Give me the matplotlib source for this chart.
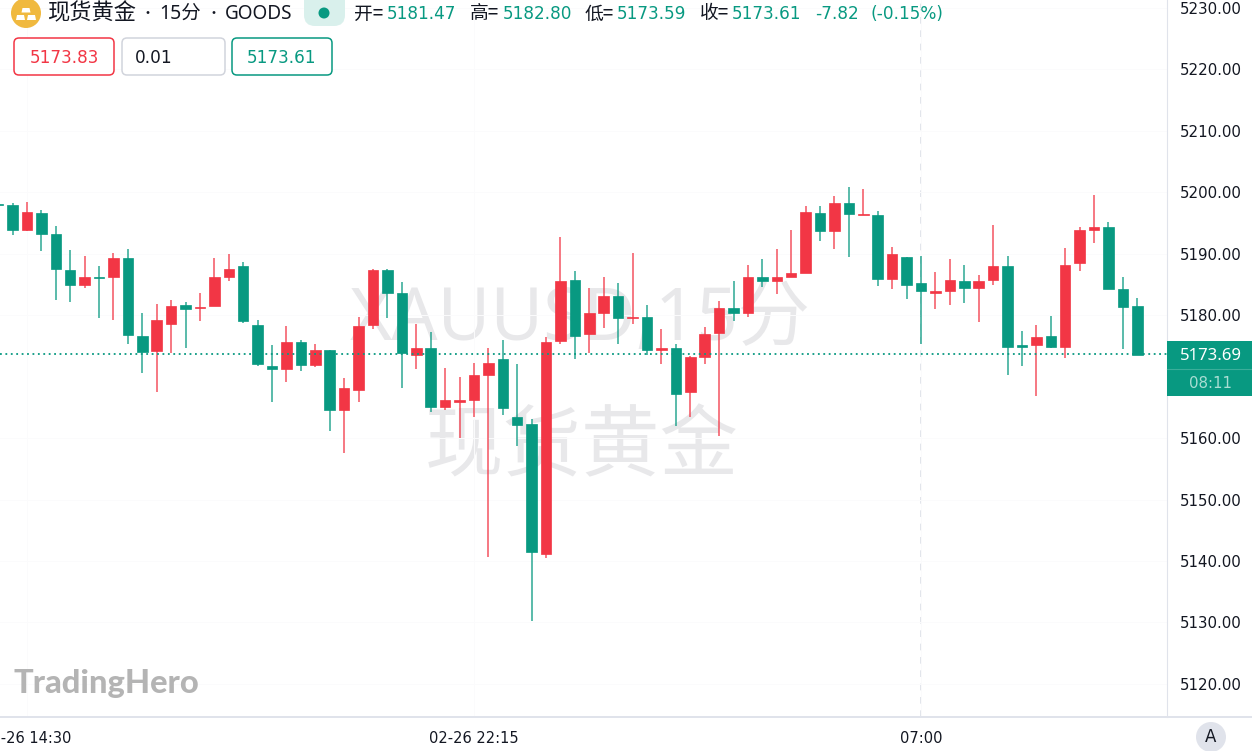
"""Spot gold 15 minute candlestick chart, saved as out.png."""

import numpy as np
import matplotlib
matplotlib.use("Agg")
import matplotlib.pyplot as plt
from matplotlib.patches import Circle, FancyBboxPatch, Polygon, Rectangle

plt.rcParams["font.family"] = ["DejaVu Sans", "Noto Sans CJK SC"]
CJK_FONTS = ["Noto Sans CJK SC", "Noto Sans"]

GREEN = "#089981"
RED = "#F23645"
LINE = "#E0E3EB"
INK = "#131722"

opens = [5198.1, 5197.9, 5193.8, 5196.7, 5193.2, 5187.4, 5185.0, 5186.3, 5186.3, 5189.3,
         5176.7, 5174.1, 5178.6, 5181.7, 5181.1, 5181.5, 5186.3, 5188.0, 5178.4, 5171.7,
         5171.3, 5175.6, 5171.9, 5174.35, 5164.6, 5167.8, 5178.4, 5187.3, 5183.7, 5173.6,
         5174.7, 5165.0, 5165.9, 5166.2, 5170.3, 5172.8, 5163.4, 5162.3, 5141.1, 5175.8,
         5185.7, 5176.9, 5180.3, 5183.1, 5179.5, 5179.7, 5174.4, 5174.6, 5167.5, 5173.2,
         5177.1, 5181.1, 5180.4, 5186.3, 5185.6, 5186.3, 5186.8, 5196.6, 5193.7, 5198.2,
         5196.3, 5196.3, 5185.9, 5189.4, 5185.3, 5183.7, 5184.0, 5185.6, 5184.5, 5185.7,
         5188.0, 5175.1, 5175.2, 5176.6, 5174.8, 5188.5, 5193.9, 5194.4, 5184.2, 5181.47]
highs = [5198.2, 5198.2, 5198.4, 5197.2, 5194.6, 5190.6, 5189.6, 5188.0, 5190.1, 5190.7,
         5180.4, 5181.9, 5182.4, 5182.2, 5183.6, 5189.3, 5189.9, 5188.6, 5179.2, 5175.1,
         5178.2, 5176.0, 5175.3, 5174.4, 5169.8, 5179.7, 5187.5, 5187.6, 5185.4, 5178.6,
         5177.2, 5171.4, 5169.9, 5172.2, 5174.7, 5175.9, 5172.0, 5163.1, 5176.4, 5192.7,
         5187.2, 5184.5, 5186.2, 5185.3, 5190.2, 5181.7, 5177.7, 5175.3, 5173.4, 5178.1,
         5182.3, 5185.6, 5188.1, 5189.2, 5190.7, 5193.9, 5197.7, 5197.8, 5199.4, 5200.8,
         5200.6, 5196.9, 5191.1, 5189.4, 5189.6, 5187.1, 5189.1, 5188.2, 5186.5, 5194.7,
         5189.6, 5177.4, 5178.4, 5179.9, 5191.0, 5194.3, 5199.5, 5195.2, 5186.2, 5182.80]
lows = [5198.0, 5193.0, 5193.7, 5190.4, 5182.4, 5182.2, 5184.4, 5179.6, 5179.2, 5175.4,
        5170.6, 5167.5, 5173.9, 5174.7, 5179.1, 5181.5, 5185.5, 5178.8, 5171.8, 5165.8,
        5169.1, 5170.9, 5171.6, 5161.1, 5157.6, 5165.9, 5177.7, 5179.5, 5168.2, 5171.2,
        5164.3, 5164.6, 5160.1, 5163.5, 5140.7, 5163.8, 5158.8, 5130.2, 5140.5, 5175.4,
        5172.8, 5173.8, 5178.0, 5175.3, 5178.5, 5173.5, 5172.0, 5161.9, 5163.5, 5172.0,
        5160.4, 5179.1, 5179.7, 5184.6, 5183.4, 5186.3, 5186.8, 5192.0, 5190.8, 5189.5,
        5196.3, 5184.8, 5184.3, 5182.7, 5175.4, 5181.0, 5181.6, 5182.0, 5178.9, 5185.0,
        5170.2, 5171.8, 5166.8, 5174.6, 5173.0, 5187.2, 5191.8, 5184.2, 5174.5, 5173.59]
closes = [5198.0, 5193.8, 5196.8, 5193.2, 5187.5, 5185.0, 5186.3, 5186.0, 5189.3, 5176.8,
          5174.0, 5179.2, 5181.5, 5181.0, 5181.4, 5186.3, 5187.6, 5179.1, 5172.0, 5171.3,
          5175.7, 5171.9, 5174.4, 5164.6, 5168.2, 5178.3, 5187.3, 5183.6, 5173.8, 5174.7,
          5165.1, 5166.2, 5166.2, 5170.3, 5172.2, 5164.9, 5162.2, 5141.5, 5175.7, 5185.6,
          5176.7, 5180.4, 5183.1, 5179.6, 5179.7, 5174.3, 5174.6, 5167.2, 5173.2, 5176.9,
          5181.2, 5180.3, 5186.3, 5185.5, 5186.2, 5186.9, 5196.8, 5193.7, 5198.2, 5196.4,
          5196.5, 5185.9, 5189.9, 5184.9, 5183.9, 5183.9, 5185.7, 5184.5, 5185.6, 5188.0,
          5174.9, 5174.8, 5176.4, 5174.8, 5188.2, 5193.9, 5194.3, 5184.3, 5181.4, 5173.61]

price_ticks = [5120, 5130, 5140, 5150, 5160, 5170, 5180, 5190, 5200, 5210, 5220, 5230]
hidden_tick = 5170  # covered by the last price tag
time_ticks = [1, 32, 63]
time_labels = ["02-26 14:30", "02-26 22:15", "07:00"]
last_price = 5173.69

opens, highs, lows, closes = map(np.array, (opens, highs, lows, closes))
bar_idx = np.arange(len(opens)) - 1
colors = np.where(closes < opens, GREEN, RED)

W, H = 1252, 751
fig = plt.figure(figsize=(W / 100, H / 100), dpi=100, facecolor="white")

# pixel axes behind the candles, for the watermark
back = fig.add_axes([0, 0, 1, 1], zorder=0)
back.set_xlim(0, W)
back.set_ylim(H, 0)
back.axis("off")
back.text(350, 321, "XAUUSD,15分", fontsize=52, color="#E8E8EA", va="center", ha="left",
          family=["Noto Sans", "Noto Sans CJK SC"])
back.text(425, 448, "现货黄金", fontsize=56.5, color="#E8E8EA", va="center", ha="left",
          family=CJK_FONTS)

ax = fig.add_axes([0, (H - 717) / H, 1167 / W, 717 / H], zorder=1)
ax.patch.set_visible(False)
ax.set_xlim(-0.867, 80.06)
ax.set_ylim(5114.62, 5231.3)

ax.grid(True, color="#FBFBFC", lw=0.7, zorder=0)
ax.vlines(bar_idx, lows, highs, colors=colors, lw=1.1, alpha=0.85, zorder=2)
ax.bar(bar_idx, np.abs(closes - opens), bottom=np.minimum(opens, closes), width=0.73,
       color=colors, edgecolor=colors, lw=0.5, zorder=3)
ax.axvline(time_ticks[2], color="#DDE0E8", lw=1.2, ls=(0, (4, 4)), zorder=1)
ax.axhline(last_price, color=GREEN, lw=1.3, ls=(0, (1, 2)), zorder=4)

ax.yaxis.tick_right()
ax.set_yticks([t for t in price_ticks if t != hidden_tick])
ax.set_yticklabels([f"{t:.2f}" for t in price_ticks if t != hidden_tick])
ax.set_xticks(time_ticks)
ax.set_xticklabels(time_labels)
ax.tick_params(axis="y", length=0, pad=9, labelsize=10.8, labelcolor=INK)
ax.tick_params(axis="x", length=0, pad=10, labelsize=10.5, labelcolor=INK)
for side in ("left", "top"):
    ax.spines[side].set_visible(False)
ax.spines["right"].set_color(LINE)
ax.spines["right"].set_linewidth(0.8)
ax.spines["bottom"].set_color(LINE)
ax.spines["bottom"].set_linewidth(1.4)

# pixel axes on top for the header, tags and logo
top = fig.add_axes([0, 0, 1, 1], zorder=2)
top.set_xlim(0, W)
top.set_ylim(H, 0)
top.axis("off")
top.plot([1167, W], [717, 717], color=LINE, lw=1.4)

# gold icon
top.add_patch(Circle((26, 13), 15, color="#F0B93F", lw=0))
for pts in ([(22.5, 8), (29.5, 8), (30.5, 12.5), (21.5, 12.5)],
            [(17, 15), (24, 15), (25, 20), (16, 20)],
            [(28, 15), (35, 15), (36, 20), (27, 20)]):
    top.add_patch(Polygon(pts, color="white", lw=0))

title_parts = [(47, "现货黄金", 16), (141, "・", 10), (159, "15分", 14), (206, "・", 10), (225, "GOODS", 13.7)]
for x, label, size in title_parts:
    top.text(x, 14, label, fontsize=size, color=INK, va="center", ha="left",
             family=["Noto Sans", "Noto Sans CJK SC"])
top.add_patch(FancyBboxPatch((304, -12), 41, 38, boxstyle="round,pad=0,rounding_size=11",
                             fc="#D9F0EC", ec="none", lw=0))
top.add_patch(Circle((324, 13), 5.5, color=GREEN, lw=0))

ohlc_labels = [(354, "开="), (470, "高="), (585, "低="), (700, "收=")]
ohlc_values = [(387, "5181.47"), (503, "5182.80"), (617, "5173.59"), (732, "5173.61"),
               (815, "-7.82"), (870, "(-0.15%)")]
for x, label in ohlc_labels:
    top.text(x, 14, label, fontsize=13.5, color=INK, va="center", ha="left", family=CJK_FONTS)
for x, label in ohlc_values:
    top.text(x, 14, label, fontsize=12.2, color=GREEN, va="center", ha="left")

for x0, x1, edge, label, col, tx, align in [
    (14, 114, RED, "5173.83", RED, 64, "center"),
    (122, 225, "#D1D4DC", "0.01", INK, 135, "left"),
    (232, 332, GREEN, "5173.61", GREEN, 282, "center"),
]:
    top.add_patch(FancyBboxPatch((x0, 38), x1 - x0, 37, boxstyle="round,pad=0,rounding_size=5",
                                 fc="white", ec=edge, lw=1.1))
    top.text(tx, 58, label, fontsize=12.2, color=col, va="center", ha=align)

# last price tag
top.add_patch(Rectangle((1167, 341), W - 1167, 55, color=GREEN, lw=0))
top.plot([1167, W], [368.5, 368.5], color="#3BAE9A", lw=0.8)
top.text(1211, 356, "5173.69", fontsize=12, color="white", weight="bold", va="center", ha="center",
         family="Noto Sans")
top.text(1211, 383, "08:11", fontsize=10.8, color="#A9DDD3", va="center", ha="center")

top.add_patch(Circle((1211, 737), 15, color=LINE, lw=0))
top.text(1211, 737, "A", fontsize=12, color=INK, va="center", ha="center")

top.text(14, 683, "TradingHero", fontsize=23.5, color="#B4B4B4", weight=900,
         family="Lato", va="center", ha="left")

fig.savefig("out.png", dpi=100)
